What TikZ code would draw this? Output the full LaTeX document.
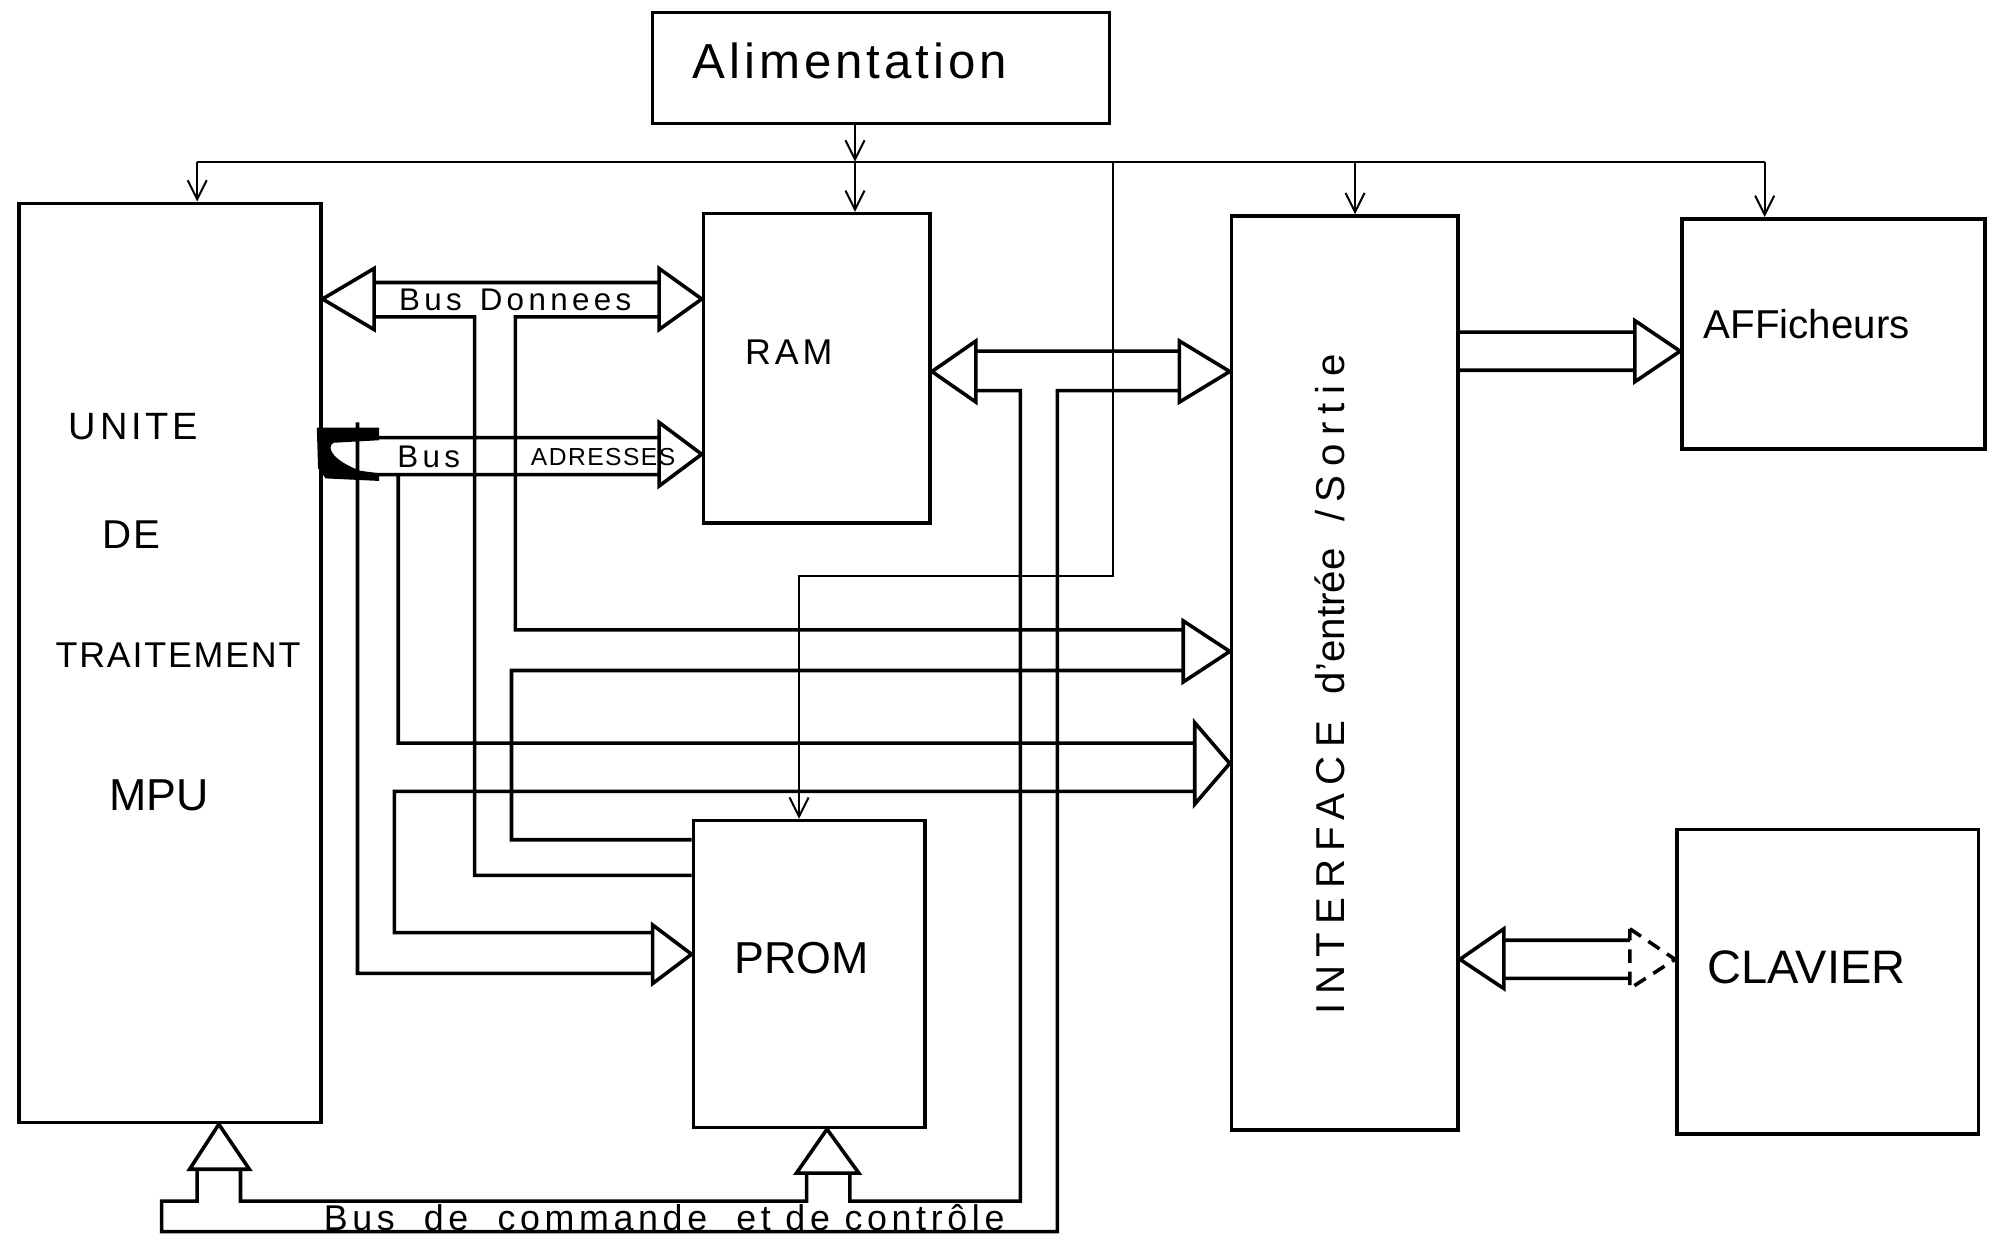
\documentclass[tikz,border=0pt]{standalone}
\usepackage{fontspec}
\setmainfont{Liberation Sans}
\usetikzlibrary{arrows.meta,positioning}

\newcommand{\lsp}[1]{\addfontfeature{LetterSpace=#1}}

\begin{document}
\begin{tikzpicture}[x=0.01cm, y=-0.01cm,
    block/.style={rectangle, draw, line width=0.8pt, inner sep=0pt},
    txt/.style={inner sep=0pt, font=\fontsize{#1}{#1}\selectfont},
    power/.style={draw, line width=0.45pt},
    feed/.style={power, -{Straight Barb[length=1.5mm, width=1.5mm]}},
    bus/.style={draw, line width=0.8pt, line join=miter}
]
\useasboundingbox (0,0) rectangle (1568,975);

% blocks
\node [block, minimum width=3.59cm, minimum height=0.87cm] (alim) at (692.5,53.5) {};
\node [block, minimum width=2.37cm, minimum height=7.22cm] (mpu) at (133.5,521) {};
\node [block, minimum width=1.78cm, minimum height=2.43cm] (ram) at (642,289.5) {};
\node [block, minimum width=1.82cm, minimum height=2.41cm] (prom) at (636,765.5) {};
\node [block, minimum width=1.78cm, minimum height=7.18cm] (io) at (1057,529) {};
\node [block, minimum width=2.38cm, minimum height=1.81cm] (aff) at (1441,262.5) {};
\node [block, minimum width=2.37cm, minimum height=2.39cm] (clav) at (1436.5,771.5) {};

% texts
\node [txt=11] (alim-t) at (668,48) {\lsp{8}Alimentation};
\node [txt=8.5] (mpu-t1) at (105,335) {\lsp{10}UNITE};
\node [txt=9] (mpu-t2) at (103,420) {\lsp{5}DE};
\node [txt=8] (mpu-t3) at (140,515) {\lsp{5}TRAITEMENT};
\node [txt=10] (mpu-t4) at (125,625) {MPU};
\node [txt=8] (ram-t) at (620,277) {\lsp{11}RAM};
\node [txt=10] (prom-t) at (630,753) {PROM};
\node [txt=9] (aff-t) at (1420,255) {AFFicheurs};
\node [txt=10.5] (clav-t) at (1420,760) {CLAVIER};
\node [txt=9, rotate=90] (io-t) at (1045,538) {{\lsp{21}INTERFACE}\hspace{6pt}d'entrée\hspace{6pt}{\lsp{21}/Sortie}};
\node [txt=7] (dat-t) at (405,236) {\lsp{14}Bus\hspace{4pt}Donnees};
\node [txt=7] (adr-t1) at (337,359) {\lsp{14}Bus};
\node [txt=5.5] (adr-t2) at (474,359) {\lsp{6}ADRESSES};
\node [txt=8] (cmd-t) at (522,957) {\lsp{13}Bus\ \ de\ \ commande\ \ et de\ contrôle};

% power supply
\coordinate (p-mpu) at (155,127);
\coordinate (p-ram) at (672,127);
\coordinate (p-fork) at (875,127);
\coordinate (p-io) at (1065,127);
\coordinate (p-aff) at (1387,127);
\coordinate (p-prom) at (628,453);

\path [power] (p-mpu) -- (p-aff);
\path [feed] (p-mpu) -- (p-mpu |- mpu.north);
\path [feed] (alim.south -| p-ram) -- (p-ram);
\path [feed] (p-ram) -- (p-ram |- ram.north);
\path [feed] (p-io) -- (p-io |- io.north);
\path [feed] (p-aff) -- (p-aff |- aff.north);
\path [feed] (p-fork) |- (p-prom) -- (p-prom |- prom.north);

% bus centre lines
\coordinate (c-dat) at (0,235);
\coordinate (c-adr) at (0,357);
\coordinate (c-rio) at (0,292);
\coordinate (c-dio) at (0,512);
\coordinate (c-aio) at (0,600);
\coordinate (c-aprom) at (0,750);
\coordinate (c-aff) at (0,276);
\coordinate (c-clav) at (0,754);
\coordinate (c-mpu) at (172,0);
\coordinate (c-prom) at (650,0);

% data bus
\path [bus] (mpu.east |- c-dat) -- (294,211) -- (294,259) -- cycle
  (ram.west |- c-dat) -- (518,211) -- (518,259) -- cycle
  (294,222) -- (518,222)
  (518,249) -- (405,249) -- (405,495) -- (930,495)
  (930,488) -- (io.west |- c-dio) -- (930,536) -- cycle
  (930,527) -- (402,527) -- (402,660) -- (prom.west |- 0,660)
  (294,249) -- (373,249) -- (373,688) -- (prom.west |- 0,688);

% address bus
\path [bus] (ram.west |- c-adr) -- (518,332) -- (518,382) -- cycle
  (296,344) -- (518,344)
  (290,373) -- (518,373)
  (313,373) -- (313,584) -- (939,584)
  (939,568) -- (io.west |- c-aio) -- (939,632) -- cycle
  (939,622) -- (310,622) -- (310,733) -- (513,733)
  (513,727) -- (prom.west |- c-aprom) -- (513,773) -- cycle
  (513,765) -- (281,765) -- (281,332);
\fill (249,336) -- (298,336) -- (298,346) -- (262,348)
  .. controls (256,352) and (262,362) .. (283,370)
  -- (298,372) -- (298,378) -- (256,376) -- (250,368) -- cycle;

% RAM <-> interface, command and control bus
\path [bus] (ram.east |- c-rio) -- (767,268) -- (767,316) -- cycle
  (io.west |- c-rio) -- (927,268) -- (927,316) -- cycle
  (767,276) -- (927,276)
  (927,307) -- (831,307) -- (831,968) -- (127,968) -- (127,944) -- (155,944) -- (155,919)
  (189,919) -- (189,944) -- (634,944) -- (634,922)
  (668,922) -- (668,944) -- (802,944) -- (802,307) -- (767,307);
\path [bus] (mpu.south -| c-mpu) -- (149,919) -- (196,919) -- cycle;
\path [bus] (prom.south -| c-prom) -- (626,922) -- (675,922) -- cycle;

% displays and keyboard
\path [bus] (io.east |- 0,261) -- (1285,261)
  (io.east |- 0,291) -- (1285,291)
  (1285,252) -- (aff.west |- c-aff) -- (1285,300) -- cycle;
\path [bus] (io.east |- c-clav) -- (1182,730) -- (1182,777) -- cycle
  (1182,739) -- (1281,739)
  (1182,769) -- (1281,769);
\path [bus, dash pattern=on 3pt off 2pt] (1281,730) -- (clav.west |- c-clav) -- (1281,777) -- cycle;

\end{tikzpicture}
\end{document}
